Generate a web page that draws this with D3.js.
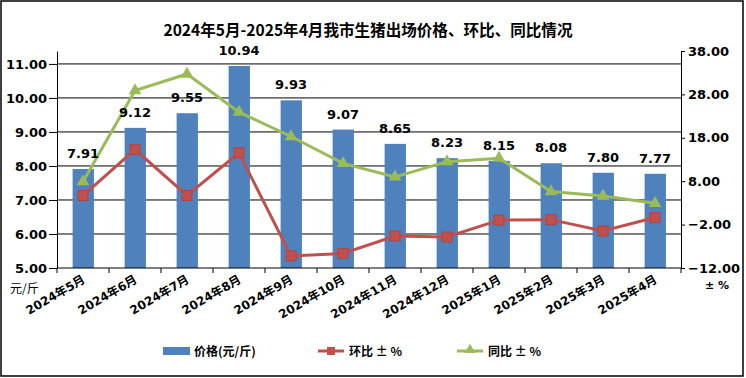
<!DOCTYPE html>
<html><head><meta charset="utf-8">
<script src="https://cdn.jsdelivr.net/npm/d3@7"></script>
<style>
html,body{margin:0;padding:0;background:#fff;}
svg{display:block;}
text{font-family:"DejaVu Sans",sans-serif;}
</style></head>
<body><svg id="c" width="746" height="378"></svg>
<script>
const categories = ["2024年5月","2024年6月","2024年7月","2024年8月","2024年9月","2024年10月","2024年11月","2024年12月","2025年1月","2025年2月","2025年3月","2025年4月"];
const price = [7.91, 9.12, 9.55, 10.94, 9.93, 9.07, 8.65, 8.23, 8.15, 8.08, 7.80, 7.77];
const mom = [4.7, 15.3, 4.71, 14.55, -9.23, -8.66, -4.63, -4.86, -0.97, -0.86, -3.47, -0.38];
const yoy = [7.9, 28.9, 32.7, 23.9, 18.3, 12.1, 9.0, 12.5, 13.3, 5.6, 4.6, 2.9];
const leftTicks = [5, 6, 7, 8, 9, 10, 11];
const rightTicks = [-12, -2, 8, 18, 28, 38];
const title = "2024年5月-2025年4月我市生猪出场价格、环比、同比情况";
const seriesNames = ["价格(元/斤)", "环比 ± %", "同比 ± %"];
const leftUnit = "元/斤", rightUnit = "± %";

const svg = d3.select("#c");
const L = 57, R = 681, T = 51, B = 268;
const blue = "#4F81BD", red = "#C0504D", green = "#9BBB59";

svg.append("rect").attr("x",1).attr("y",1).attr("width",742).attr("height",375)
  .attr("fill","#fff").attr("stroke","#000").attr("stroke-width",1.5);

const x = d3.scaleBand().domain(categories).range([L, R]).padding(0);
const yL = d3.scaleLinear().domain([5, 11.38]).range([B, T]);
const yR = d3.scaleLinear().domain([-12, 38]).range([B, T]);
const bw = x.bandwidth();
const cx = d => x(d) + bw / 2;

// title
svg.append("text").attr("x", 368).attr("y", 36).attr("text-anchor","middle")
  .style("font-family","'Noto Sans CJK SC',sans-serif").style("font-weight","bold")
  .style("font-size","16px").attr("textLength", 409).attr("lengthAdjust","spacingAndGlyphs")
  .text(title);

// gridlines
svg.append("g").selectAll("line").data(leftTicks.slice(1)).join("line")
  .attr("x1", L).attr("x2", R).attr("y1", d => yL(d)).attr("y2", d => yL(d))
  .attr("stroke","#000").attr("stroke-width",1);

// bars
svg.append("g").selectAll("rect").data(price).join("rect")
  .attr("x", (d,i) => x(categories[i]) + bw*0.3)
  .attr("width", bw*0.41)
  .attr("y", d => yL(d)).attr("height", d => yL(5) - yL(d))
  .attr("fill", blue);

// left axis
const gl = svg.append("g").attr("transform", `translate(${L},0)`)
  .call(d3.axisLeft(yL).tickValues(leftTicks).tickFormat(d3.format(".2f")).tickSize(8).tickSizeOuter(0));
gl.select(".domain").attr("stroke","#000");
gl.selectAll("text").style("font-family","'DejaVu Sans',sans-serif").style("font-weight","bold").style("font-size","13px").attr("x",-10).attr("fill","#000");

// right axis
const gr = svg.append("g").attr("transform", `translate(${R},0)`)
  .call(d3.axisRight(yR).tickValues(rightTicks).tickFormat(d3.format(".2f")).tickSize(4).tickSizeOuter(0));
gr.selectAll("text").style("font-family","'DejaVu Sans',sans-serif").style("font-weight","bold").style("font-size","13px").attr("x",7).attr("fill","#000");

// bottom axis
svg.append("line").attr("x1",L).attr("x2",R).attr("y1",B).attr("y2",B).attr("stroke","#000");
const bounds = categories.map(c => x(c)).concat([x.range()[1]]);
svg.append("g").selectAll("line").data(bounds).join("line")
  .attr("x1", d=>d).attr("x2", d=>d).attr("y1", B).attr("y2", B+5).attr("stroke","#000");
svg.append("g").selectAll("text").data(categories).join("text")
  .attr("transform", d => `translate(${cx(d)+3},${B+14}) rotate(-30)`)
  .attr("text-anchor","end")
  .style("font-family","'DejaVu Sans','Noto Sans CJK SC',sans-serif").style("font-weight","bold").style("font-size","12px")
  .text(d => d);

// units
svg.append("text").attr("x", 10).attr("y", 293).style("font-family","'Noto Sans CJK SC',sans-serif").style("font-size","12px").text(leftUnit);
svg.append("text").attr("x", 705).attr("y", 289).style("font-family","'DejaVu Sans',sans-serif").style("font-weight","bold").style("font-size","11px").text(rightUnit);

// lines
const lineR = d3.line().x((d,i) => cx(categories[i])).y(d => yR(d));
svg.append("path").datum(mom).attr("d", lineR).attr("fill","none").attr("stroke", red).attr("stroke-width",3);
svg.append("path").datum(yoy).attr("d", lineR).attr("fill","none").attr("stroke", green).attr("stroke-width",3);
svg.append("g").selectAll("rect").data(mom).join("rect")
  .attr("x",(d,i)=>cx(categories[i])-5).attr("y",d=>yR(d)-5).attr("width",10).attr("height",10)
  .attr("fill", red).attr("stroke","#B04540").attr("stroke-width",1);
const tri = d3.symbol().type(d3.symbolTriangle).size(70);
svg.append("g").selectAll("path").data(yoy).join("path")
  .attr("transform",(d,i)=>`translate(${cx(categories[i])},${yR(d)})`).attr("d", tri).attr("fill", green);

// value labels
svg.append("g").selectAll("text").data(price).join("text")
  .attr("x",(d,i)=>cx(categories[i])).attr("y", d => yL(d) - 11)
  .attr("text-anchor","middle").style("font-weight","bold").style("font-size","13px")
  .text(d => d.toFixed(2));

// legend
const lg = svg.append("g");
lg.append("rect").attr("x",163).attr("y",347).attr("width",27).attr("height",8).attr("fill",blue);
lg.append("line").attr("x1",318).attr("x2",344).attr("y1",351).attr("y2",351).attr("stroke",red).attr("stroke-width",3);
lg.append("rect").attr("x",327).attr("y",347).attr("width",8).attr("height",8).attr("fill",red);
lg.append("line").attr("x1",457).attr("x2",483).attr("y1",351).attr("y2",351).attr("stroke",green).attr("stroke-width",3);
lg.append("path").attr("transform","translate(470,350)").attr("d", d3.symbol().type(d3.symbolTriangle).size(50)()).attr("fill",green);
const lx = [194, 349, 488];
lg.selectAll("text.l").data(seriesNames).join("text").attr("class","l")
  .attr("x",(d,i)=>lx[i]).attr("y",356)
  .style("font-family","'Noto Sans CJK SC',sans-serif").style("font-size","12px").style("font-weight","bold")
  .text(d=>d);
</script></body></html>
